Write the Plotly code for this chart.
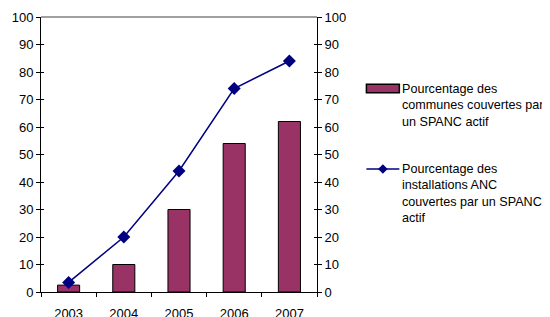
import plotly.graph_objects as go

years = ["2003", "2004", "2005", "2006", "2007"]
communes_pct = [2.5, 10, 30, 54, 62]
installations_pct = [3.5, 20, 44, 74, 84]
y_ticks = [0, 10, 20, 30, 40, 50, 60, 70, 80, 90, 100]
legend_bar = "Pourcentage des<br>communes couvertes par<br>un SPANC actif"
legend_line = "Pourcentage des<br>installations ANC<br>couvertes par un SPANC<br>actif"

# the page places the figure 8px in from the top-left corner (body margin)
OFF = 8
W, H = 550 - OFF, 317 - OFF
# plot-area edges in window pixels
L, R, T, B = 41, 317.5, 16.5, 292.5
PW, PH = R - L, B - T

def px(x):
    return (x - L) / PW

def py(y):
    return (B - y) / PH

FONT = dict(family="Liberation Sans, Arial, sans-serif", size=13, color="#000000")
LFONT = dict(family="Liberation Sans, Arial, sans-serif", size=12.6, color="#000000")
BAR = "#993366"
LINE = "#000080"

fig = go.Figure()
fig.add_trace(go.Bar(x=years, y=communes_pct, width=0.4,
                     marker=dict(color=BAR, line=dict(color="#000000", width=1)),
                     name="Pourcentage des communes couvertes par un SPANC actif"))
fig.add_trace(go.Scatter(x=years, y=installations_pct, mode="lines+markers",
                         line=dict(color=LINE, width=1.5),
                         marker=dict(symbol="diamond", size=10, color=LINE),
                         name="Pourcentage des installations ANC couvertes par un SPANC actif"))

yax = dict(range=[0, 100], tickvals=y_ticks, showgrid=False, zeroline=False,
           showline=True, linecolor="#000000", linewidth=1,
           ticks="outside", ticklen=4, tickcolor="#000000", tickfont=FONT)

fig.update_layout(
    width=W, height=H,
    margin=dict(l=L - OFF, r=550 - R, t=T - OFF, b=317 - B, pad=0, autoexpand=False),
    paper_bgcolor="white", plot_bgcolor="white",
    showlegend=False,
    font=FONT,
    xaxis=dict(type="category", range=[-0.5, 4.5], tickson="boundaries",
               showgrid=False, zeroline=False, showline=True, linecolor="#000000",
               linewidth=1, ticks="outside", ticklen=4, tickcolor="#000000",
               tickfont=FONT, ticklabelstandoff=9),
    yaxis=dict(**yax, side="left"),
    yaxis2=dict(**yax, side="right", overlaying="y", anchor="x"),
    yaxis3=dict(range=[0, 100], tickvals=y_ticks, showgrid=False, zeroline=False,
                showline=False, ticks="inside", ticklen=3, tickcolor="#000000",
                showticklabels=False, overlaying="y", side="left", anchor="x"),
    yaxis4=dict(range=[0, 100], tickvals=y_ticks, showgrid=False, zeroline=False,
                showline=False, ticks="inside", ticklen=3, tickcolor="#000000",
                showticklabels=False, overlaying="y", side="right", anchor="x"),
)

# invisible traces so the secondary axes render
for ax in ["y2", "y3", "y4"]:
    fig.add_trace(go.Scatter(x=years, y=installations_pct, yaxis=ax, mode="markers",
                             marker=dict(opacity=0), hoverinfo="skip", showlegend=False))

shapes = [
    dict(type="line", xref="paper", yref="paper", x0=0, x1=1, y0=1, y1=1,
         line=dict(color="#808080", width=1.5)),
    dict(type="rect", xref="paper", yref="paper", x0=px(367), x1=px(400),
         y0=py(92.5), y1=py(84), fillcolor=BAR, line=dict(color="#000000", width=1.5)),
    dict(type="line", xref="paper", yref="paper", x0=px(367), x1=px(400),
         y0=py(169), y1=py(169), line=dict(color=LINE, width=1.5)),
]
cx, cy, d = 383.5, 169, 4.8
shapes.append(dict(type="path", xref="paper", yref="paper",
                   path=f"M {px(cx - d)} {py(cy)} L {px(cx)} {py(cy - d)} L {px(cx + d)} {py(cy)} L {px(cx)} {py(cy + d)} Z",
                   fillcolor=LINE, line=dict(color=LINE, width=0)))
fig.update_layout(shapes=shapes)

fig.add_annotation(text=legend_bar, xref="paper", yref="paper", x=px(401), y=py(80),
                   xanchor="left", yanchor="top", align="left", showarrow=False, font=LFONT)
fig.add_annotation(text=legend_line, xref="paper", yref="paper", x=px(401), y=py(160),
                   xanchor="left", yanchor="top", align="left", showarrow=False, font=LFONT)

fig.write_html("out.html")
